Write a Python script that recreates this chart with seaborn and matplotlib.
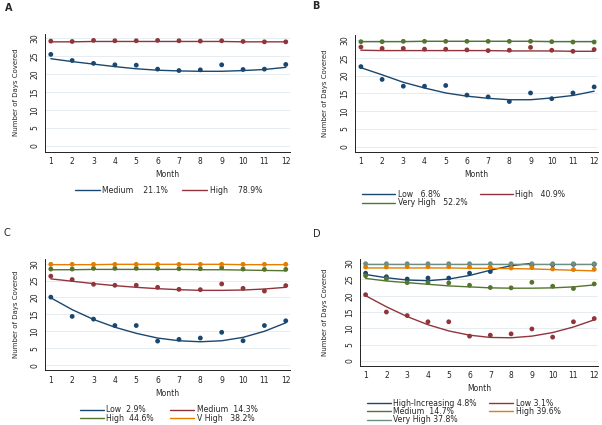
import matplotlib
matplotlib.use("Agg")
import matplotlib.pyplot as plt
import numpy as np
import pandas as pd
import seaborn as sns

months = list(range(1, 13))

# Panel A
a_medium_obs = [25.5, 23.8, 23.0, 22.6, 22.5, 21.4, 21.0, 21.2, 22.6, 21.3, 21.4, 22.7]
a_medium_fit = [24.3, 23.5, 22.8, 22.1, 21.5, 21.1, 20.9, 20.8, 20.8, 21.0, 21.3, 21.9]
a_high_obs = [29.2, 29.1, 29.4, 29.3, 29.3, 29.4, 29.3, 29.2, 29.3, 29.1, 29.0, 29.0]
a_high_fit = [29.0, 29.0, 29.1, 29.1, 29.1, 29.1, 29.1, 29.1, 29.1, 29.0, 29.0, 29.0]

# Panel B
b_low_obs = [22.5, 18.9, 17.0, 17.0, 17.2, 14.5, 14.0, 12.7, 15.1, 13.5, 15.1, 16.8]
b_low_fit = [22.2, 20.2, 18.1, 16.5, 15.1, 14.2, 13.6, 13.2, 13.2, 13.7, 14.4, 15.6]
b_high_obs = [28.0, 27.6, 27.6, 27.4, 27.4, 27.2, 27.0, 27.1, 27.9, 27.1, 26.8, 27.3]
b_high_fit = [27.1, 27.0, 27.0, 27.0, 27.0, 27.0, 27.0, 26.9, 26.9, 26.9, 26.8, 26.8]
b_vhigh_obs = [29.5, 29.5, 29.6, 29.6, 29.6, 29.6, 29.6, 29.6, 29.6, 29.5, 29.4, 29.4]
b_vhigh_fit = [29.5, 29.5, 29.5, 29.6, 29.6, 29.6, 29.6, 29.6, 29.6, 29.5, 29.5, 29.5]

# Panel C
c_low_obs = [20.1, 14.4, 13.6, 11.7, 11.7, 7.1, 7.6, 8.0, 9.7, 7.2, 11.7, 13.1]
c_low_fit = [19.9, 16.4, 13.5, 11.2, 9.4, 8.0, 7.2, 6.9, 7.2, 8.2, 10.0, 12.5]
c_med_obs = [26.3, 25.3, 23.9, 23.6, 23.6, 23.0, 22.4, 22.3, 24.0, 22.7, 21.9, 23.5]
c_med_fit = [25.5, 24.8, 24.1, 23.5, 23.0, 22.6, 22.3, 22.1, 22.1, 22.2, 22.5, 23.0]
c_high_obs = [28.4, 28.4, 28.6, 28.6, 28.6, 28.6, 28.5, 28.5, 28.8, 28.4, 28.3, 28.3]
c_high_fit = [28.2, 28.2, 28.3, 28.3, 28.3, 28.3, 28.3, 28.2, 28.2, 28.1, 28.0, 27.9]
c_vhigh_obs = [29.8, 29.8, 29.8, 29.8, 29.8, 29.8, 29.8, 29.8, 29.8, 29.8, 29.8, 29.8]
c_vhigh_fit = [29.7, 29.7, 29.7, 29.8, 29.8, 29.8, 29.8, 29.8, 29.8, 29.7, 29.7, 29.7]

# Panel D
d_hinc_obs = [26.9, 25.8, 25.1, 25.4, 25.4, 26.9, 27.4, 29.2, 29.4, 29.5, 29.6, 29.6]
d_hinc_fit = [26.5, 25.5, 24.8, 24.6, 25.1, 26.2, 27.8, 29.2, 29.9, np.nan, np.nan, np.nan]
d_low_obs = [20.3, 15.0, 13.9, 12.0, 12.0, 7.6, 7.9, 8.3, 9.8, 7.3, 12.0, 13.0]
d_low_fit = [20.0, 16.6, 13.6, 11.1, 9.2, 7.9, 7.2, 7.1, 7.6, 8.7, 10.4, 12.6]
d_med_obs = [26.1, 25.2, 24.0, 24.0, 23.9, 23.2, 22.5, 22.4, 24.1, 22.9, 22.2, 23.6]
d_med_fit = [25.3, 24.5, 24.0, 23.5, 23.0, 22.7, 22.4, 22.3, 22.3, 22.4, 22.7, 23.3]
d_high_obs = [28.8, 28.8, 28.9, 28.9, 28.9, 28.8, 28.7, 28.5, 28.6, 28.2, 28.0, 28.1]
d_high_fit = [28.5, 28.5, 28.5, 28.5, 28.5, 28.4, 28.4, 28.3, 28.2, 28.0, 27.8, 27.6]
d_vhigh_obs = [29.8, 29.8, 29.8, 29.8, 29.8, 29.8, 29.8, 29.8, 29.8, 29.8, 29.8, 29.8]
d_vhigh_fit = [29.7, 29.7, 29.7, 29.7, 29.7, 29.7, 29.7, 29.7, 29.7, 29.7, 29.7, 29.7]

# stata s2color-ish palette
navy = "#1a476f"
maroon = "#90353b"
green = "#55752f"
orange = "#e37e00"
teal = "#6e8e84"

sns.set_style("white")
plt.rcParams['font.family'] = ['DejaVu Sans']

fig = plt.figure(figsize=(6.02, 4.25), dpi=100)


def draw_panel(rect, groups, order, letter, letter_xy, bold, label_x, leg_xy, ylow,
               hlen, colsp):
    ax = fig.add_axes(rect)
    rows = []
    for name, color, obs, fit in groups:
        for m, o, f in zip(months, obs, fit):
            rows.append({"month": m, "obs": o, "fit": f, "group": name})
    df = pd.DataFrame(rows)
    pal = {g[0]: g[1] for g in groups}
    names = [g[0] for g in groups]
    ax.yaxis.grid(True, color="#e6ecef", lw=0.7)
    ax.set_axisbelow(True)
    sns.lineplot(data=df.dropna(), x="month", y="fit", hue="group", hue_order=names,
                 palette=pal, lw=1.0, ax=ax, legend=False, sort=True)
    sns.scatterplot(data=df, x="month", y="obs", hue="group", hue_order=names,
                    palette=pal, s=12, linewidth=0, ax=ax, legend=False, zorder=3)
    ax.set_xlim(0.73, 12.2)
    ax.set_ylim(ylow, 31.3)
    ax.set_xticks(months)
    ax.set_yticks([0, 5, 10, 15, 20, 25, 30])
    ax.tick_params(axis="both", labelsize=5.5, length=2.5, width=0.6, pad=1.5, colors="#222222")
    for lab in ax.get_yticklabels():
        lab.set_rotation(90)
        lab.set_va("center")
    sns.despine(ax=ax)
    for s in ["left", "bottom"]:
        ax.spines[s].set_linewidth(0.7)
        ax.spines[s].set_color("#222222")
    ax.set_xlabel("Month", fontsize=5.5, labelpad=3)
    ax.set_ylabel("")
    fig.text(label_x, rect[1] + rect[3] / 2, "Number of Days Covered", rotation=90,
             fontsize=5, ha="center", va="center")
    fig.text(letter_xy[0], letter_xy[1], letter, fontsize=7,
             fontweight="bold" if bold else "normal", ha="left", va="center")
    handles = []
    for i in order:
        name, color, _, _ = groups[i]
        handles.append(plt.Line2D([], [], color=color, lw=1.0, label=name))
    fig.legend(handles=handles, loc="upper center", bbox_to_anchor=leg_xy, ncol=2,
               frameon=False, fontsize=5.6, handlelength=hlen, handletextpad=0.3,
               columnspacing=colsp, labelspacing=-0.08, borderaxespad=0, borderpad=0)
    return ax


draw_panel([0.0748, 0.643, 0.407, 0.278],
           [("Medium    21.1%", navy, a_medium_obs, a_medium_fit),
            ("High    78.9%", maroon, a_high_obs, a_high_fit)],
           [0, 1], "A", (0.008, 0.982), True, 0.027, (0.28, 0.563), -1.6, 3.2, 1.8)

draw_panel([0.590, 0.643, 0.404, 0.274],
           [("Low   6.8%", navy, b_low_obs, b_low_fit),
            ("High   40.9%", maroon, b_high_obs, b_high_fit),
            ("Very High   52.2%", green, b_vhigh_obs, b_vhigh_fit)],
           [0, 2, 1], "B", (0.518, 0.985), True, 0.540, (0.77, 0.553), -1.4, 4.3, 1.6)

draw_panel([0.0748, 0.129, 0.407, 0.261],
           [("Low  2.9%", navy, c_low_obs, c_low_fit),
            ("Medium  14.3%", maroon, c_med_obs, c_med_fit),
            ("High  44.6%", green, c_high_obs, c_high_fit),
            ("V High   38.2%", orange, c_vhigh_obs, c_vhigh_fit)],
           [0, 2, 1, 3], "C", (0.005, 0.452), False, 0.027, (0.28, 0.046), -1.5, 3.1, 2.1)

draw_panel([0.598, 0.140, 0.396, 0.251],
           [("High-Increasing 4.8%", navy, d_hinc_obs, d_hinc_fit),
            ("Low 3.1%", maroon, d_low_obs, d_low_fit),
            ("Medium  14.7%", green, d_med_obs, d_med_fit),
            ("High 39.6%", orange, d_high_obs, d_high_fit),
            ("Very High 37.8%", teal, d_vhigh_obs, d_vhigh_fit)],
           [0, 2, 4, 1, 3], "D", (0.520, 0.449), False, 0.540, (0.77, 0.062), -1.4, 3.1, 1.6)

fig.savefig("out.png", dpi=100)
